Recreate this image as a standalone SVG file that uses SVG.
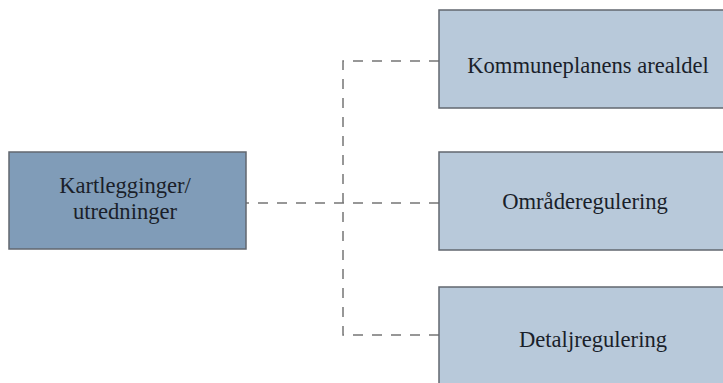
<svg xmlns="http://www.w3.org/2000/svg" width="723" height="383" viewBox="0 0 723 383">
  <style>
    .box { stroke: #62676f; stroke-width: 1.5; }
    .src { fill: #809cb8; }
    .dst { fill: #b8c9da; }
    .lbl { font-family: "Liberation Serif", "Times New Roman", serif; font-size: 22.6px; fill: #1a1f2a; text-anchor: middle; }
    .link { fill: none; stroke: #767676; stroke-width: 1.5; stroke-dasharray: 10 9; }
  </style>
  <rect width="723" height="383" fill="#ffffff"/>

  <g id="connectors">
    <path class="link" d="M439 203 H246"/>
    <path class="link" d="M439 61 H343 V335 H439"/>
  </g>

  <g id="kartlegginger">
    <rect class="box src" x="9" y="152" width="237" height="97"/>
    <text class="lbl" x="125" y="193">Kartlegginger/</text>
    <text class="lbl" x="125" y="219">utredninger</text>
  </g>

  <g id="kommuneplanens-arealdel">
    <rect class="box dst" x="439" y="10" width="300" height="98"/>
    <text class="lbl" x="588" y="73">Kommuneplanens arealdel</text>
  </g>

  <g id="omraderegulering">
    <rect class="box dst" x="439" y="152" width="300" height="98"/>
    <text class="lbl" x="585" y="209">Områderegulering</text>
  </g>

  <g id="detaljregulering">
    <rect class="box dst" x="439" y="287" width="300" height="110"/>
    <text class="lbl" x="593" y="347">Detaljregulering</text>
  </g>
</svg>
